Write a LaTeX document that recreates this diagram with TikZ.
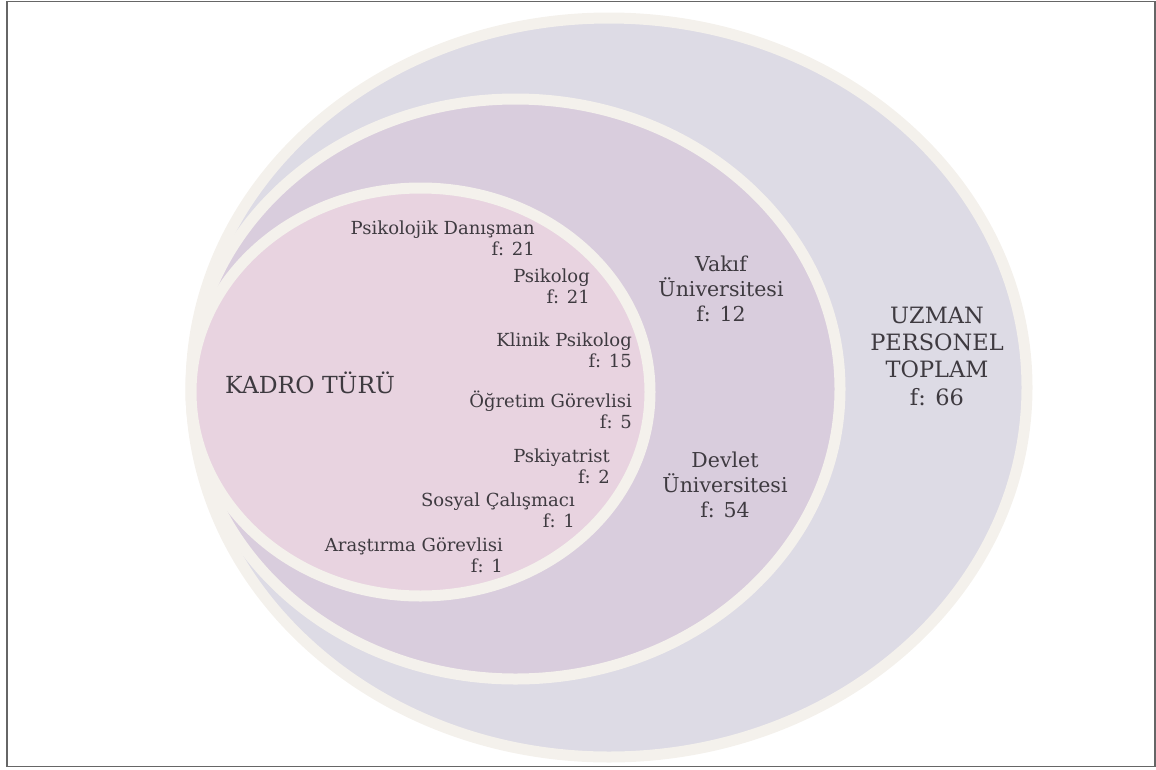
\documentclass[tikz,border=0pt]{standalone}
\usepackage{fontspec}
\setmainfont{DejaVu Serif}
\definecolor{cream}{HTML}{F4F1EC}
\definecolor{outerfill}{HTML}{DDDBE5}
\definecolor{middlefill}{HTML}{D9CDDD}
\definecolor{innerfill}{HTML}{E8D3E0}
\definecolor{txt}{HTML}{3E3A40}
\tikzset{
	ring/.style={draw=cream, line width=11pt},
	kadro/.style={text=txt, inner sep=0pt, align=right, anchor=base east, font=\fontsize{18}{20.5}\selectfont},
	uni/.style={text=txt, inner sep=0pt, align=center, anchor=base, font=\fontsize{20.5}{25}\selectfont},
}
\begin{document}
\begin{tikzpicture}[x=1pt, y=-1pt]
	\useasboundingbox (0, 0) rectangle (1156, 769);
	\draw[gray!80!black, line width=1.5pt] (7, 1.5) rectangle (1155, 766.5);
	% the three rings
	\filldraw[ring, fill=outerfill] (609, 387.5) ellipse [x radius=418, y radius=369.5];
	\filldraw[ring, fill=middlefill] (515.5, 389) ellipse [x radius=324.5, y radius=290];
	\filldraw[ring, fill=innerfill] (420.5, 392) ellipse [x radius=229.5, y radius=204];
	% kadro turu
	\node[text=txt, inner sep=0pt, anchor=base west, font=\fontsize{23.5}{26}\selectfont] (kadro) at (225, 393) {KADRO TÜRÜ};
	\foreach \name/\lbl/\f/\x/\y in {
			danisman/Psikolojik Danışman/21/535/255,
			psikolog/Psikolog/21/590/303,
			klinik/Klinik Psikolog/15/632/367,
			ogretim/Öğretim Görevlisi/5/632/428,
			psikiyatrist/Pskiyatrist/2/610/483,
			sosyal/Sosyal Çalışmacı/1/575/527,
			arastirma/Araştırma Görevlisi/1/503/572}
		\node[kadro] (\name) at (\x, \y) {\lbl\\f: \f};
	% universite
	\node[uni] (vakif) at (721, 321) {Vakıf\\Üniversitesi\\f: 12};
	\node[uni] (devlet) at (725, 517) {Devlet\\Üniversitesi\\f: 54};
	\node[uni, font=\fontsize{22.5}{27.3}\selectfont] (toplam) at (937, 405) {UZMAN\\PERSONEL\\TOPLAM\\f: 66};
\end{tikzpicture}
\end{document}
